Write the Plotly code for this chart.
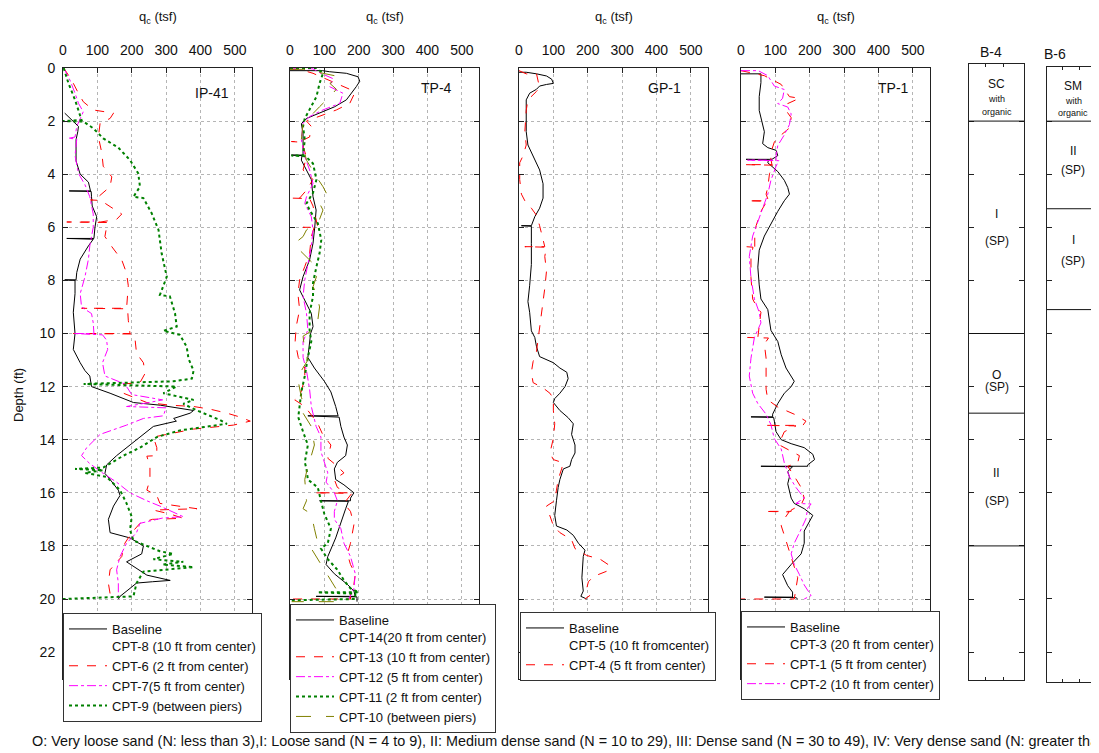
import plotly.graph_objects as go

# page body adds an 8px margin; figure sized to fit the 1099x753 window
OFF = 8
W, H = 1099 - OFF, 753 - OFF
FONT = "Liberation Sans, Arial, sans-serif"

# ---------------- IP-41 ----------------
ip41_base_depth = [1.7, 1.9, 2.0, 2.2, 2.4, 2.7, 3.5, 4.0, 4.3, 4.63, 4.63, 4.65, 4.85, 5.2, 5.6, 6.0, 6.42, 6.42, 6.45, 6.7, 7.2, 7.7, 7.98, 7.98, 8.0, 8.5, 9.2, 10.0, 10.6, 11.1, 11.4, 11.6, 12.0, 12.25, 12.6, 12.7, 12.9, 13.0, 13.2, 13.3, 13.5, 13.9, 14.3, 14.6, 14.95, 15.27, 15.5, 15.9, 16.1, 16.5, 17.0, 17.5, 17.7, 18.0, 18.3, 18.6, 19.1, 19.3, 19.35, 19.4, 19.6, 19.9, 20.0]
ip41_base_qc = [5, 20, 28, 45, 43, 38, 38, 50, 74, 80, 18, 82, 83, 85, 98, 93, 90, 11, 88, 74, 50, 40, 38, 5, 35, 35, 30, 35, 30, 50, 64, 78, 83, 137, 205, 283, 380, 370, 322, 330, 263, 224, 185, 156, 127, 122, 137, 161, 166, 147, 132, 137, 195, 234, 229, 185, 244, 312, 260, 214, 195, 166, 161]

ip41_cpt6_depth = [0, 0.45, 0.83, 1.27, 1.58, 1.64, 1.7, 1.9, 2.08, 2.6, 3.2, 3.7, 4.1, 4.47, 4.85, 4.97, 4.97, 4.99, 5.22, 5.5, 5.7, 5.8, 5.8, 5.82, 5.97, 6.35, 6.73, 7.23, 7.73, 8.2, 9.05, 9.05, 9.07, 9.5, 10.0, 10.0, 10.02, 10.25, 10.75, 11.1, 11.5, 11.85, 11.9, 12.25, 12.6, 12.7, 12.75, 12.85, 13.0, 13.15, 13.3, 13.45, 13.6, 13.9, 14.3, 14.6, 14.62, 15.0, 15.5, 15.9, 16.1, 16.4, 16.6, 16.65, 16.8, 16.96, 17.0, 17.15, 17.5, 17.9, 18.4, 18.9, 19.4, 19.8, 20.0]
ip41_cpt6_qc = [2, 25, 40, 59, 88, 117, 147, 137, 108, 103, 113, 117, 142, 137, 103, 98, 80, 110, 137, 171, 156, 110, 11, 130, 127, 122, 142, 171, 185, 190, 185, 54, 188, 190, 195, 30, 205, 210, 214, 234, 239, 224, 176, 176, 244, 312, 380, 428, 477, 516, 545, 496, 380, 263, 273, 273, 244, 253, 253, 244, 273, 282, 390, 263, 312, 350, 260, 224, 200, 180, 171, 137, 132, 137, 127]

ip41_cpt7_depth = [0, 0.45, 0.95, 1.33, 1.65, 1.8, 2.2, 2.6, 2.65, 2.67, 3.3, 3.97, 4.4, 4.85, 5.5, 6.0, 6.7, 7.2, 7.86, 8.5, 9.0, 9.25, 9.6, 10.0, 10.0, 10.05, 10.25, 10.6, 11.1, 11.6, 11.9, 12.3, 12.5, 12.6, 12.75, 12.8, 13.1, 13.2, 13.45, 13.8, 14.3, 14.6, 14.9, 15.27, 15.6, 16.0, 16.3, 16.5, 16.9, 16.95, 17.15, 17.5, 17.9, 18.4, 18.9, 19.4, 20.0]
ip41_cpt7_qc = [2, 20, 35, 45, 59, 54, 40, 35, 15, 40, 35, 45, 64, 78, 88, 88, 78, 74, 64, 50, 54, 83, 88, 90, 30, 115, 127, 130, 115, 122, 180, 200, 290, 250, 185, 300, 292, 234, 185, 108, 69, 54, 78, 117, 156, 195, 244, 282, 350, 290, 224, 214, 185, 166, 156, 161, 161]

ip41_cpt9_depth = [0, 0.58, 1.2, 1.65, 1.96, 2.0, 2.02, 2.27, 2.65, 3.0, 3.47, 3.97, 4.47, 4.85, 4.9, 5.47, 6.1, 6.98, 7.86, 8.55, 8.6, 9.24, 9.74, 9.9, 10.05, 10.5, 10.94, 11.4, 11.7, 11.8, 11.9, 12.0, 12.25, 12.5, 12.65, 12.9, 13.26, 13.4, 13.55, 13.65, 13.9, 14.3, 14.6, 15.05, 15.1, 15.15, 15.25, 15.4, 15.9, 16.4, 16.9, 17.4, 17.8, 18.0, 18.2, 18.3, 18.5, 18.6, 18.7, 18.8, 18.97, 19.4, 19.9, 20.0]
ip41_cpt9_qc = [2, 16, 35, 45, 54, 0, 60, 88, 117, 161, 195, 219, 224, 205, 234, 258, 278, 287, 302, 282, 311, 326, 331, 292, 340, 360, 365, 380, 375, 321, 60, 330, 292, 380, 350, 390, 457, 477, 399, 340, 273, 224, 176, 117, 35, 117, 64, 127, 166, 185, 200, 195, 205, 244, 282, 321, 263, 350, 290, 380, 234, 214, 205, 0]

# ---------------- TP-4 ----------------
tp4_base_depth = [0.1, 0.1, 0.14, 0.2, 0.33, 0.5, 0.7, 1.2, 1.46, 1.7, 1.9, 2.1, 2.46, 3.1, 3.28, 3.28, 3.3, 3.47, 3.84, 4.2, 4.85, 5.35, 6.0, 6.6, 7.23, 7.86, 8.36, 8.74, 9.24, 9.74, 10.0, 10.9, 11.3, 11.8, 12.2, 12.75, 13.1, 13.1, 13.15, 13.5, 13.9, 14.2, 14.6, 14.85, 15.1, 15.5, 15.7, 16.0, 16.2, 16.3, 16.3, 16.32, 16.6, 17.1, 17.7, 18.4, 18.7, 19.05, 19.45, 19.7, 19.9, 19.9, 19.92, 20.1]
tp4_base_qc = [0, 95, 115, 164, 198, 203, 193, 164, 130, 86, 48, 33, 38, 38, 38, 4, 35, 33, 48, 62, 67, 76, 72, 67, 57, 38, 28, 43, 62, 67, 60, 52, 71, 100, 119, 133, 140, 52, 143, 148, 157, 167, 162, 138, 129, 133, 157, 186, 176, 176, 86, 170, 162, 148, 133, 110, 105, 129, 167, 186, 190, 76, 195, 195]

tp4_cpt13_depth = [0.05, 0.05, 0.2, 0.5, 0.83, 0.95, 1.33, 1.58, 1.83, 2.0, 2.2, 2.6, 2.77, 2.77, 2.8, 2.96, 3.34, 3.84, 4.2, 4.6, 4.9, 4.9, 4.92, 5.2, 5.7, 6.0, 6.0, 6.02, 6.35, 6.98, 7.48, 7.98, 8.5, 9.1, 9.74, 10.3, 10.9, 11.3, 11.7, 12.3, 12.5, 12.75, 13.15, 13.4, 13.8, 14.2, 14.7, 15.0, 15.25, 15.5, 15.8, 16.0, 16.0, 16.02, 16.4, 16.7, 17.2, 17.9, 18.3, 18.7, 19.05, 19.45, 19.8, 20.0, 20.0]
tp4_cpt13_qc = [0, 28, 67, 120, 179, 188, 174, 135, 86, 48, 62, 57, 28, 4, 38, 38, 48, 38, 67, 48, 28, 4, 57, 67, 76, 81, 38, 70, 62, 57, 43, 28, 23, 28, 18, 15, 24, 43, 43, 30, 14, 43, 67, 81, 95, 119, 110, 138, 157, 129, 138, 167, 70, 180, 157, 176, 186, 176, 167, 176, 190, 186, 176, 176, 5]

tp4_cpt12_depth = [0.03, 0.03, 0.2, 0.4, 0.7, 0.95, 1.33, 1.58, 1.83, 2.08, 2.7, 3.34, 3.84, 4.35, 4.85, 5.1, 5.6, 6.1, 6.73, 7.36, 7.98, 8.6, 9.24, 9.87, 10.3, 10.9, 11.4, 12.1, 12.75, 13.5, 13.9, 14.45, 14.85, 15.25, 15.6, 16.0, 16.3, 16.7, 17.0, 17.35, 17.9, 18.4, 19.05, 19.6, 20.0]
tp4_cpt12_qc = [0, 67, 90, 125, 115, 154, 145, 96, 57, 38, 33, 43, 57, 67, 48, 43, 62, 67, 62, 52, 43, 38, 48, 52, 38, 38, 48, 57, 62, 76, 90, 90, 100, 110, 105, 129, 138, 129, 129, 148, 157, 176, 190, 186, 171]

tp4_cpt11_depth = [0.0, 0.0, 0.2, 0.58, 1.08, 1.58, 1.9, 2.2, 2.7, 3.3, 3.3, 3.32, 3.6, 4.2, 4.7, 5.1, 5.35, 5.85, 6.48, 6.98, 7.48, 8.1, 8.6, 9.24, 9.87, 10.3, 10.9, 11.6, 12.2, 12.75, 13.15, 13.7, 14.2, 14.85, 15.1, 15.5, 15.8, 16.3, 16.8, 17.35, 17.9, 18.1, 18.5, 18.9, 19.3, 19.6, 19.75, 19.75, 19.8, 20.0, 20.05]
tp4_cpt11_qc = [0, 77, 96, 86, 77, 57, 43, 38, 43, 38, 4, 45, 67, 77, 67, 48, 57, 81, 91, 86, 77, 67, 67, 57, 57, 62, 52, 43, 33, 29, 24, 38, 52, 43, 48, 52, 81, 90, 100, 119, 110, 90, 110, 138, 157, 176, 200, 80, 190, 190, 0]

tp4_cpt10_depth = [0.05, 0.05, 0.33, 0.58, 0.8, 1.08, 1.46, 1.83, 2.1, 2.7, 3.47, 4.1, 4.47, 4.72, 4.97, 5.1, 5.35, 5.7, 6.1, 6.35, 6.6, 6.86, 7.1, 7.36, 7.86, 8.24, 8.5, 9.0, 9.5, 9.87, 10.1, 10.65, 11.0, 11.4, 11.8, 12.4, 12.75, 13.0, 13.5, 14.2, 14.6, 15.0, 15.5, 16.3, 16.6, 16.8, 17.35, 17.9, 18.1, 18.5, 18.9, 19.3, 19.7, 20.1, 20.1]
tp4_cpt10_qc = [0, 40, 145, 116, 135, 116, 86, 57, 38, 33, 48, 77, 96, 106, 96, 86, 96, 86, 48, 38, 14, 28, 48, 67, 77, 67, 77, 86, 81, 67, 38, 43, 52, 33, 24, 33, 43, 38, 62, 71, 62, 52, 43, 48, 38, 62, 71, 81, 62, 81, 100, 119, 138, 130, 5]

# ---------------- GP-1 ----------------
gp1_base_depth = [0.16, 0.16, 0.22, 0.3, 0.42, 0.58, 0.62, 0.68, 0.8, 0.95, 1.2, 1.73, 2.4, 2.9, 3.3, 3.84, 4.36, 4.9, 5.28, 5.6, 5.94, 5.94, 5.96, 6.6, 7.4, 8.2, 8.8, 9.2, 9.9, 10.15, 10.5, 10.87, 11.1, 11.3, 11.46, 11.7, 12.0, 12.25, 12.45, 12.6, 12.9, 13.17, 13.4, 13.8, 14.2, 14.5, 14.75, 15.0, 15.1, 15.5, 15.8, 16.3, 16.85, 17.25, 17.4, 17.6, 17.9, 18.16, 18.4, 19.2, 19.7, 19.9, 20.0]
gp1_base_qc = [0, 21, 51, 80, 95, 100, 80, 60, 51, 31, 21, 21, 21, 26, 41, 60, 70, 70, 60, 46, 36, 7, 36, 36, 36, 31, 26, 31, 36, 46, 51, 60, 100, 119, 139, 143, 134, 119, 104, 100, 119, 143, 158, 153, 163, 163, 153, 148, 129, 119, 114, 109, 104, 109, 139, 158, 173, 192, 187, 183, 187, 180, 197]

gp1_cpt4_depth = [0.1, 0.22, 0.22, 0.55, 0.75, 0.88, 1.0, 1.2, 1.6, 2.4, 2.9, 3.3, 3.57, 4.2, 4.75, 5.0, 5.28, 5.55, 5.94, 6.5, 6.73, 6.73, 6.75, 7.1, 7.65, 8.3, 8.8, 9.2, 9.75, 10.3, 10.67, 11.06, 11.46, 11.85, 12.05, 12.25, 12.45, 12.9, 13.4, 13.95, 14.5, 14.75, 14.87, 15.1, 15.5, 15.9, 16.3, 16.5, 16.85, 17.24, 17.5, 17.77, 18.1, 18.36, 18.5, 18.75, 18.95, 19.15, 19.35, 19.6, 19.86, 20.0]
gp1_cpt4_qc = [0, 21, 51, 56, 60, 51, 41, 26, 21, 17, 21, 12, 2, 2, 7, 17, 36, 51, 60, 70, 75, 17, 80, 75, 80, 75, 70, 65, 60, 56, 51, 41, 36, 41, 70, 90, 100, 100, 104, 100, 90, 100, 129, 124, 114, 109, 104, 80, 90, 100, 119, 153, 163, 197, 236, 265, 256, 217, 202, 197, 207, 192]

# ---------------- TP-1 ----------------
tp1_base_depth = [0.22, 0.22, 0.55, 1.08, 1.6, 2.13, 2.4, 2.85, 3.0, 3.1, 3.3, 3.44, 3.44, 3.46, 3.57, 3.9, 4.23, 4.5, 4.75, 5.0, 5.4, 5.94, 6.33, 6.86, 7.5, 8.17, 8.7, 9.1, 9.5, 9.88, 10.3, 10.8, 11.3, 11.6, 11.8, 12.0, 12.25, 12.64, 13.04, 13.14, 13.14, 13.16, 13.3, 13.7, 14.0, 14.15, 14.3, 14.55, 14.75, 14.95, 15.0, 15.0, 15.02, 15.2, 15.4, 15.66, 16.2, 16.4, 16.6, 16.85, 17.1, 17.44, 17.9, 18.3, 18.7, 19.08, 19.5, 19.74, 19.93, 19.93, 19.95, 20.0]
tp1_base_qc = [0, 58, 58, 53, 53, 63, 68, 63, 78, 102, 107, 90, 15, 80, 78, 107, 126, 136, 141, 126, 107, 83, 68, 53, 49, 53, 58, 78, 83, 87, 107, 117, 131, 146, 155, 146, 126, 107, 92, 92, 29, 95, 97, 102, 117, 146, 184, 209, 214, 194, 194, 58, 150, 136, 141, 136, 146, 155, 184, 209, 199, 184, 184, 175, 146, 121, 136, 150, 150, 68, 160, 165]

tp1_cpt1_depth = [0.1, 0.29, 0.62, 0.81, 1.08, 1.14, 1.34, 1.6, 1.87, 2.26, 2.52, 2.79, 3.18, 3.44, 3.64, 3.64, 3.66, 3.97, 4.5, 4.75, 5.0, 5.0, 5.02, 5.4, 5.94, 6.3, 6.73, 6.73, 6.75, 7.1, 7.9, 8.7, 8.96, 9.2, 9.75, 10.0, 10.15, 10.15, 10.17, 10.4, 10.93, 11.6, 12.1, 12.5, 12.77, 13.04, 13.3, 13.46, 13.46, 13.48, 13.7, 13.96, 14.2, 14.6, 14.87, 15.0, 15.27, 15.5, 15.8, 16.2, 16.45, 16.65, 16.7, 16.7, 16.72, 16.98, 17.24, 17.6, 18.0, 18.4, 18.8, 19.2, 19.6, 20.0, 20.0]
tp1_cpt1_qc = [0, 68, 117, 126, 141, 170, 136, 131, 146, 141, 117, 97, 87, 87, 90, 10, 95, 83, 78, 73, 80, 19, 75, 58, 44, 40, 40, 15, 35, 29, 29, 34, 44, 58, 53, 49, 49, 19, 80, 68, 73, 73, 73, 78, 107, 155, 189, 180, 68, 160, 126, 117, 112, 170, 165, 136, 150, 160, 175, 184, 175, 146, 146, 68, 140, 126, 117, 126, 136, 146, 155, 165, 160, 155, 0]

tp1_cpt2_depth = [0.1, 0.1, 0.29, 0.68, 0.81, 1.14, 1.34, 1.47, 1.73, 2.13, 2.52, 2.92, 3.3, 3.47, 3.47, 3.49, 3.7, 4.23, 4.75, 5.28, 5.8, 6.33, 7.1, 7.9, 8.7, 9.2, 9.6, 10.15, 10.93, 11.6, 12.25, 12.64, 13.04, 13.43, 13.96, 14.35, 14.87, 15.4, 15.8, 16.2, 16.4, 16.42, 16.58, 16.98, 17.37, 17.9, 18.3, 18.7, 19.08, 19.47, 19.87, 20.0]
tp1_cpt2_qc = [0, 50, 78, 97, 126, 121, 107, 136, 146, 141, 126, 107, 102, 102, 19, 110, 102, 87, 78, 63, 49, 34, 24, 29, 39, 53, 58, 39, 29, 24, 34, 49, 73, 87, 97, 117, 126, 141, 160, 184, 160, 204, 194, 189, 175, 155, 146, 155, 170, 184, 204, 184]

# ---------------- Borings ----------------
b4_boundaries = [2, 10, 13, 18]
b4_labels = ["SC", "with", "organic", "I", "(SP)", "O", "(SP)", "II", "(SP)"]
b4_label_depths = [0.6, 1.17, 1.66, 5.5, 6.5, 11.55, 12.0, 15.25, 16.3]
b6_boundaries = [2, 5.3, 9.1]
b6_labels = ["SM", "with", "organic", "II", "(SP)", "I", "(SP)"]
b6_label_depths = [0.68, 1.24, 1.7, 3.13, 3.84, 6.48, 7.27]

panel_names = ["IP-41", "TP-4", "GP-1", "TP-1"]
depth_ticks = list(range(0, 24, 2))
qc_ticks = [0, 100, 200, 300, 400, 500]

note_text = ("O: Very loose sand (N: less than 3),I: Loose sand (N = 4 to 9), II: Medium dense sand (N = 10 to 29), "
             "III: Dense sand (N = 30 to 49), IV: Very dense sand (N: greater than 50)")

# ---------------- layout helpers (window pixels -> paper) ----------------
def px(p):
    return (p - OFF) / W

def py(p):
    return 1 - (p - OFF) / H

RED, MAG, GRN, OLV, BLK = "#ff0000", "#ff00ff", "#008000", "#808000", "#000000"

styles = {
    "base": dict(color=BLK, dash="solid", width=1),
    "red": dict(color=RED, dash="dash", width=1),
    "mag": dict(color=MAG, dash="dashdot", width=1),
    "grn": dict(color=GRN, dash="dot", width=2),
    "olv": dict(color=OLV, dash="longdash", width=1),
}

fig = go.Figure()

def add(depth, qc, ax, leg, name, st):
    fig.add_trace(go.Scatter(
        x=qc, y=depth, mode="lines", name=name,
        xaxis="x" if ax == 1 else f"x{ax}", yaxis="y" if ax == 1 else f"y{ax}",
        legend="legend" if leg == 1 else f"legend{leg}",
        line=styles[st], hoverinfo="skip"))

add(ip41_base_depth, ip41_base_qc, 1, 1, "Baseline<br>CPT-8 (10 ft from center)", "base")
add(ip41_cpt6_depth, ip41_cpt6_qc, 1, 1, "CPT-6 (2 ft from center)", "red")
add(ip41_cpt7_depth, ip41_cpt7_qc, 1, 1, "CPT-7(5 ft from center)", "mag")
add(ip41_cpt9_depth, ip41_cpt9_qc, 1, 1, "CPT-9 (between piers)", "grn")

add(tp4_base_depth, tp4_base_qc, 2, 2, "Baseline<br>CPT-14(20 ft from center)", "base")
add(tp4_cpt13_depth, tp4_cpt13_qc, 2, 2, "CPT-13 (10 ft from center)", "red")
add(tp4_cpt12_depth, tp4_cpt12_qc, 2, 2, "CPT-12 (5 ft from center)", "mag")
add(tp4_cpt11_depth, tp4_cpt11_qc, 2, 2, "CPT-11 (2 ft from center)", "grn")
add(tp4_cpt10_depth, tp4_cpt10_qc, 2, 2, "CPT-10 (between piers)", "olv")

add(gp1_base_depth, gp1_base_qc, 3, 3, "Baseline<br>CPT-5 (10 ft fromcenter)", "base")
add(gp1_cpt4_depth, gp1_cpt4_qc, 3, 3, "CPT-4 (5 ft from center)", "red")

add(tp1_base_depth, tp1_base_qc, 4, 4, "Baseline<br>CPT-3 (20 ft from center)", "base")
add(tp1_cpt1_depth, tp1_cpt1_qc, 4, 4, "CPT-1 (5 ft from center)", "red")
add(tp1_cpt2_depth, tp1_cpt2_qc, 4, 4, "CPT-2 (10 ft from center)", "mag")

panels_px = [(63, 252), (290, 479), (519, 708), (741, 930)]
ydom = [py(678.65), py(68)]

layout = dict(
    width=W, height=H, margin=dict(l=0, r=0, t=0, b=0, autoexpand=False),
    paper_bgcolor="white", plot_bgcolor="white",
    font=dict(family=FONT, size=14, color="#111"),
)

for i, (l, r) in enumerate(panels_px, start=1):
    xs = "xaxis" if i == 1 else f"xaxis{i}"
    ys = "yaxis" if i == 1 else f"yaxis{i}"
    yid = "y" if i == 1 else f"y{i}"
    xid = "x" if i == 1 else f"x{i}"
    layout[xs] = dict(domain=[px(l), px(r)], range=[0, 550], side="top", anchor=yid,
                      tickvals=qc_ticks, ticks="inside", ticklen=5, tickcolor="#222",
                      showline=True, linecolor="#222", linewidth=1, mirror="ticks",
                      showgrid=True, gridcolor="#b5b5b5", griddash="dot", gridwidth=1,
                      zeroline=False, tickfont=dict(size=14, family=FONT, color="#111"),
                      ticklabelstandoff=6, fixedrange=True, automargin=False)
    layout[ys] = dict(domain=ydom, range=[23, 0], anchor=xid,
                      tickvals=depth_ticks, ticks="inside", ticklen=5, tickcolor="#222",
                      showline=True, linecolor="#222", linewidth=1, mirror="ticks",
                      showgrid=True, gridcolor="#b5b5b5", griddash="dot", gridwidth=1,
                      zeroline=False, showticklabels=(i == 1),
                      tickfont=dict(size=14, family=FONT, color="#111"),
                      ticklabelstandoff=4, fixedrange=True, automargin=False)

# boring columns
borings = [(5, 969, 1024, 64, 680, -0.15, 23.05), (6, 1047, 1099, 67, 682, -0.04, 23.13)]
for (k, l, r, t, b, d0, d1) in borings:
    layout[f"xaxis{k}"] = dict(domain=[px(l), min(px(r), 1.0)], range=[0, 1], anchor=f"y{k}",
                               tickvals=[0.3, 0.62], ticks="inside", ticklen=3, tickcolor="#222",
                               showticklabels=False, showline=True, linecolor="#222",
                               linewidth=1, mirror="ticks", showgrid=False, zeroline=False,
                               automargin=False, fixedrange=True)
    layout[f"yaxis{k}"] = dict(domain=[py(b), py(t)], range=[d1, d0], anchor=f"x{k}",
                               tickvals=depth_ticks[1:], ticks="inside", ticklen=5, tickcolor="#222",
                               showticklabels=False, showline=True, linecolor="#222",
                               linewidth=1, mirror="ticks", showgrid=False, zeroline=False,
                               automargin=False, fixedrange=True)

shapes = []
for d in b4_boundaries:
    shapes.append(dict(type="line", xref="x5", yref="y5", x0=0, x1=1, y0=d, y1=d,
                       line=dict(color="#111", width=1)))
for d in b6_boundaries:
    shapes.append(dict(type="line", xref="x6", yref="y6", x0=0, x1=1, y0=d, y1=d,
                       line=dict(color="#111", width=1)))
layout["shapes"] = shapes

ann = []
small = {"with", "organic"}

def text(t, x, y, size, xref="paper", yref="paper", **kw):
    d = dict(text=t, xref=xref, yref=yref, x=x, y=y, showarrow=False,
             xanchor="center", yanchor="middle",
             font=dict(size=size, family=FONT, color="#111"))
    d.update(kw)
    ann.append(d)

for txt, d in zip(b4_labels, b4_label_depths):
    text(txt, 0.5, d, 9 if txt in small else 12, xref="x5", yref="y5")
for txt, d in zip(b6_labels, b6_label_depths):
    text(txt, 0.5, d, 9 if txt in small else 12, xref="x6", yref="y6")

text("B-4", px(991), py(52), 14)
text("B-6", px(1055), py(54), 14)

name_pos = [(212, 93), (436, 88), (664, 88), (893, 88)]
for (l, r), nm, (nx, ny) in zip(panels_px, panel_names, name_pos):
    text("q<sub>c</sub> (tsf)", px((l + r) / 2), py(17), 13)
    text(nm, px(nx), py(ny), 14)

text("Depth (ft)", px(18), py(395), 13, textangle=-90)
text(note_text, px(30), py(741), 14.4, xanchor="left")
layout["annotations"] = ann

leg_common = dict(bgcolor="white", bordercolor="#333", borderwidth=1, xanchor="left", yanchor="top",
                  valign="top", itemwidth=38, font=dict(size=13, family=FONT, color="#111"),
                  tracegroupgap=0)
layout["legend"] = dict(x=px(63), y=py(613), **leg_common)
layout["legend2"] = dict(x=px(290), y=py(604), **leg_common)
layout["legend3"] = dict(x=px(520), y=py(612), **leg_common)
layout["legend4"] = dict(x=px(741), y=py(611), **leg_common)
layout["showlegend"] = True

fig.update_layout(**layout)
fig.write_html("out.html")
